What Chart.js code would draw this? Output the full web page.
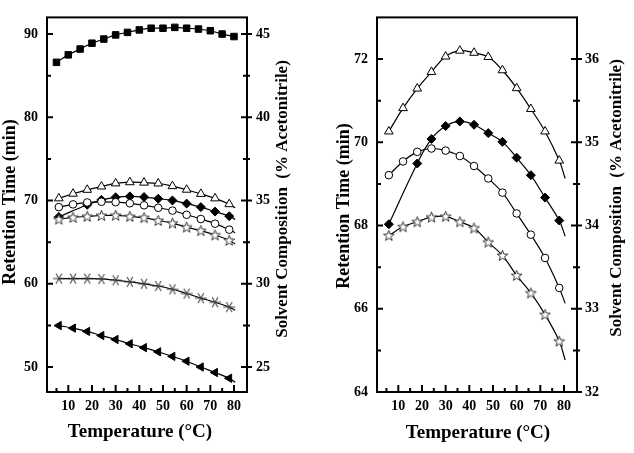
<!DOCTYPE html>
<html><head><meta charset="utf-8">
<script src="https://cdn.jsdelivr.net/npm/chart.js@4.4.1/dist/chart.umd.min.js"></script>
<style>
html,body{margin:0;padding:0;background:#fff;}
#wrap{position:relative;width:634px;height:453px;background:#fff;}
.panel{position:absolute;top:0;width:317px;height:453px;}
</style></head><body>
<div id="wrap">
<div class="panel" style="left:0"><canvas id="c1" width="317" height="453"></canvas></div>
<div class="panel" style="left:317px"><canvas id="c2" width="317" height="453"></canvas></div>
</div>
<script>
// ---- data ----
const tempSquare  = [5,10,15,20,25,30,35,40,45,50,55,60,65,70,75,80];
const tempStep6   = [6,12,18,24,30,36,42,48,54,60,66,72,78];
const tempDiamond = [6,18,24,30,36,42,48,54,60,66,72,78];
const curveEndTemp = 80.5;

const squareRT   = [86.6,87.5,88.2,88.9,89.4,89.9,90.2,90.5,90.7,90.7,90.8,90.7,90.6,90.4,90.0,89.7];
const triangleRT = [70.26,70.82,71.29,71.69,72.06,72.20,72.15,72.05,71.73,71.30,70.80,70.26,69.56];
const triangleEnd = 69.13;
const diamondRT  = [68.03,69.49,70.08,70.39,70.50,70.42,70.22,70.01,69.63,69.21,68.67,68.12];
const diamondEnd = 67.74;
const circleRT   = [69.21,69.54,69.77,69.85,69.80,69.67,69.43,69.13,68.79,68.29,67.78,67.22,66.50];
const circleEnd  = 66.13;
const starRT     = [67.76,67.97,68.09,68.20,68.22,68.09,67.94,67.60,67.28,66.80,66.38,65.86,65.22];
const starEnd    = 64.77;
const asteriskRT = [60.62,60.62,60.62,60.58,60.43,60.23,60.00,59.73,59.34,58.83,58.28,57.78,57.20];
const asteriskEnd = 56.81;
const leftTriRT  = [54.98,54.67,54.28,53.78,53.31,52.80,52.33,51.83,51.28,50.70,50.00,49.34,48.65];
const leftTriEnd = 48.18;

// tick labels
const xTickLabels   = [10,20,30,40,50,60,70,80];
const xMinorTicks   = [5,15,25,35,45,55,65,75];
const leftRTTicks   = [50,60,70,80,90];
const leftRTMinor   = [55,65,75,85];
const leftSolvTicks = [25,30,35,40,45];
const leftSolvMinor = [27.5,32.5,37.5,42.5];
const rightRTTicks  = [64,66,68,70,72];
const rightRTMinor  = [65,67,69,71];
const rightSolvTicks= [32,33,34,35,36];
const rightSolvMinor= [32.5,33.5,34.5,35.5];

const xTitle = 'Temperature (°C)';
const yTitle = 'Retention Time (min)';
const y2Title = 'Solvent Composition  (% Acetonitrile)';

// ---- marker images ----
function starImg(){
  const c=document.createElement('canvas'); c.width=13; c.height=13;
  const g=c.getContext('2d'); g.beginPath();
  for(let i=0;i<10;i++){
    const r=i%2?2.3:5.6, a=-Math.PI/2+i*Math.PI/5;
    const x=6.5+r*Math.cos(a), y=6.9+r*Math.sin(a);
    i?g.lineTo(x,y):g.moveTo(x,y);
  }
  g.closePath(); g.fillStyle='#fff'; g.fill(); g.strokeStyle='#222'; g.lineWidth=0.9; g.stroke();
  return c;
}
function asteriskImg(){
  const c=document.createElement('canvas'); c.width=14; c.height=12;
  const g=c.getContext('2d'); g.strokeStyle='#444'; g.lineWidth=1.1; g.beginPath();
  const cx=7, cy=6;
  [[0,6],[60,5.8],[-60,5.8]].forEach(([d,r])=>{
    const a=d*Math.PI/180; g.moveTo(cx-r*Math.cos(a),cy-r*Math.sin(a)); g.lineTo(cx+r*Math.cos(a),cy+r*Math.sin(a));
  });
  g.stroke(); return c;
}
const STAR = starImg(), AST = asteriskImg();

function pts(xs, ys, endY){
  const p = xs.map((x,i)=>({x:x,y:ys[i]}));
  if(endY!==undefined) p.push({x:curveEndTemp,y:endY});
  return p;
}
function ds(xs, ys, endY, style, r, fill, extra){
  const n = xs.length;
  return Object.assign({
    data: pts(xs, ys, endY),
    borderColor:'#000', borderWidth:1.2, tension:0.4,
    pointStyle: style,
    pointRadius: c => c.dataIndex < n ? r : 0,
    pointBackgroundColor: fill, pointBorderColor:'#000', pointBorderWidth:1,
    pointHoverRadius:0
  }, extra||{});
}

const tickFont = {family:'"Liberation Serif", "Times New Roman", serif', weight:'bold', size:14};

function frame(cfg){
  return {
    id:'frame'+cfg.id,
    afterDraw(chart){
      const ctx=chart.ctx, a=chart.chartArea;
      const xs=chart.scales.x, ys=chart.scales.y, y2=chart.scales.y2;
      ctx.save();
      ctx.strokeStyle='#000'; ctx.lineWidth=2;
      ctx.strokeRect(a.left, a.top, a.right-a.left, a.bottom-a.top);
      ctx.beginPath();
      xs.ticks.forEach(t=>{const p=xs.getPixelForValue(t.value); ctx.moveTo(p,a.bottom); ctx.lineTo(p,a.bottom-7);});
      cfg.xMinor.forEach(v=>{const p=xs.getPixelForValue(v); ctx.moveTo(p,a.bottom); ctx.lineTo(p,a.bottom-4);});
      ys.ticks.forEach(t=>{const p=ys.getPixelForValue(t.value); ctx.moveTo(a.left,p); ctx.lineTo(a.left+6,p);});
      cfg.yMinor.forEach(v=>{const p=ys.getPixelForValue(v); ctx.moveTo(a.left,p); ctx.lineTo(a.left+4,p);});
      y2.ticks.forEach(t=>{const p=y2.getPixelForValue(t.value); ctx.moveTo(a.right-6,p); ctx.lineTo(a.right+5,p);});
      cfg.y2Minor.forEach(v=>{const p=y2.getPixelForValue(v); ctx.moveTo(a.right-4,p); ctx.lineTo(a.right+3,p);});
      ctx.stroke();
      // titles
      ctx.fillStyle='#000'; ctx.textAlign='center'; ctx.textBaseline='middle';
      ctx.font='bold 19px "Liberation Serif", "Times New Roman", serif';
      ctx.fillText(xTitle, cfg.xt[0], cfg.xt[1]);
      ctx.font='bold 18px "Liberation Serif", "Times New Roman", serif';
      ctx.save(); ctx.translate(cfg.yt[0], cfg.yt[1]); ctx.rotate(-Math.PI/2); ctx.fillText(yTitle,0,0); ctx.restore();
      ctx.font='bold 17px "Liberation Serif", "Times New Roman", serif';
      ctx.save(); ctx.translate(cfg.y2t[0], cfg.y2t[1]); ctx.rotate(-Math.PI/2); ctx.fillText(y2Title,0,0); ctx.restore();
      ctx.restore();
    }
  };
}

function scales(o){
  const common = {grid:{display:false, drawTicks:false}, border:{display:false}};
  return {
    x: Object.assign({type:'linear', position:'bottom', min:1, max:85.5,
      afterBuildTicks:s=>{s.ticks=xTickLabels.map(v=>({value:v}));},
      afterFit:s=>{s.height=61;},
      ticks:{font:tickFont, color:'#000', padding:6, maxRotation:0, autoSkip:false}}, common),
    y: Object.assign({type:'linear', position:'left', min:o.ymin, max:o.ymax,
      afterBuildTicks:s=>{s.ticks=o.yTicks.map(v=>({value:v}));},
      afterFit:s=>{s.width=o.yw;},
      ticks:{font:tickFont, color:'#000', padding:9, autoSkip:false}}, common),
    y2: Object.assign({type:'linear', position:'right', min:o.ymin/2, max:o.ymax/2,
      afterBuildTicks:s=>{s.ticks=o.y2Ticks.map(v=>({value:v}));},
      afterFit:s=>{s.width=o.y2w;},
      ticks:{font:tickFont, color:'#000', padding:o.y2pad, autoSkip:false}}, common)
  };
}

const baseOpts = {responsive:false, animation:false, events:[],
  plugins:{legend:{display:false}, tooltip:{enabled:false}},
  layout:{padding:{top:7,left:0,right:0,bottom:0}}};

const triOpen = ()=>ds(tempStep6, triangleRT, triangleEnd, 'triangle', 5, '#fff');
const diaFill = ()=>ds(tempDiamond, diamondRT, diamondEnd, 'rectRot', 4.5, '#000');
const cirOpen = ()=>ds(tempStep6, circleRT, circleEnd, 'circle', 3.8, '#fff');
const starOpen= ()=>ds(tempStep6, starRT, starEnd, STAR, 5, '#fff');

new Chart(document.getElementById('c1'), {
  type:'line',
  data:{datasets:[
    ds(tempSquare, squareRT, undefined, 'rect', 4.6, '#000'),
    ds(tempStep6, asteriskRT, asteriskEnd, AST, 6, '#fff'),
    ds(tempStep6, leftTriRT, leftTriEnd, 'triangle', 4.8, '#000', {pointRotation:-90}),
    starOpen(), cirOpen(), diaFill(), triOpen()
  ]},
  options:Object.assign({}, baseOpts, {
    scales:scales({ymin:47, ymax:92, yTicks:leftRTTicks, y2Ticks:leftSolvTicks, yw:47, y2w:70, y2pad:9})
  }),
  plugins:[frame({id:1, xMinor:xMinorTicks, yMinor:leftRTMinor, y2Minor:leftSolvMinor,
    xt:[140,432], yt:[10,202], y2t:[283,199]})]
});

new Chart(document.getElementById('c2'), {
  type:'line',
  data:{datasets:[ starOpen(), cirOpen(), diaFill(), triOpen() ]},
  options:Object.assign({}, baseOpts, {
    scales:scales({ymin:64, ymax:73, yTicks:rightRTTicks, y2Ticks:rightSolvTicks, yw:60, y2w:57, y2pad:8})
  }),
  plugins:[frame({id:2, xMinor:xMinorTicks, yMinor:rightRTMinor, y2Minor:rightSolvMinor,
    xt:[161,433], yt:[27,206], y2t:[300,198]})]
});
</script>
</body></html>
